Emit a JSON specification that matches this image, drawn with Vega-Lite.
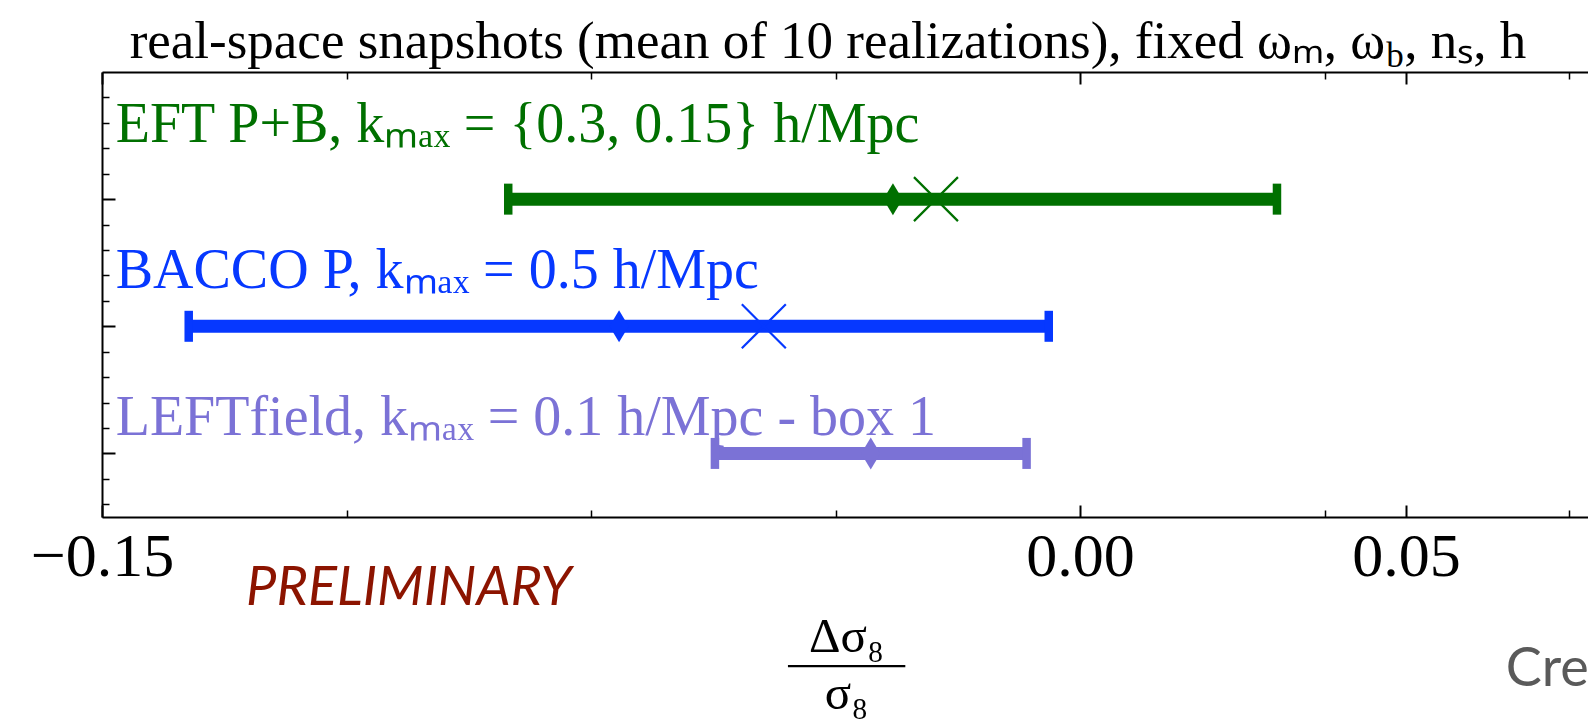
{
  "$schema": "https://vega.github.io/schema/vega-lite/v6.json",
  "autosize": "none",
  "padding": {"left": 102, "top": 72, "right": 0, "bottom": 205},
  "width": 1486,
  "height": 445,
  "background": "white",
  "config": {"view": {"stroke": null}},
  "datasets": {
    "runs": [
      {"method": "EFT P+B", "slot": 3, "lo": -0.0877, "hi": 0.0302, "mean": -0.0287, "alt": -0.0221},
      {"method": "BACCO P", "slot": 2, "lo": -0.1367, "hi": -0.0048, "mean": -0.0707, "alt": -0.0485},
      {"method": "LEFTfield", "slot": 1, "lo": -0.056, "hi": -0.0082, "mean": -0.0321, "alt": null}
    ],
    "labels": [
      {"method": "EFT P+B", "x": -0.1479, "y": 3.452, "text": "EFT P+B, kₘₐₓ = {0.3, 0.15} h/Mpc"},
      {"method": "BACCO P", "x": -0.1479, "y": 2.305, "text": "BACCO P, kₘₐₓ = 0.5 h/Mpc"},
      {"method": "LEFTfield", "x": -0.1479, "y": 1.142, "text": "LEFTfield, kₘₐₓ = 0.1 h/Mpc - box 1"}
    ]
  },
  "resolve": {"axis": {"x": "independent", "y": "independent"}},
  "layer": [
    {
      "data": {"name": "runs"},
      "mark": {"type": "rule", "strokeWidth": 13, "strokeCap": "butt"},
      "encoding": {
        "x": {"field": "lo", "type": "quantitative",
          "scale": {"domain": [-0.15, 0.0779], "nice": false, "zero": false},
          "axis": {"orient": "bottom", "values": [-0.15, 0, 0.05], "format": ".2f", "grid": false,
            "tickSize": -12, "tickWidth": 2, "tickColor": "black", "domainColor": "black", "domainWidth": 2,
            "labelFont": "Liberation Serif", "labelFontSize": 62, "labelColor": "black", "labelBaseline": "alphabetic",
            "labelPadding": 70, "labelFlush": false,
            "title": ["Δσ₈", "σ₈"], "titleFont": "Liberation Serif", "titleFontSize": 49, "titleFontWeight": "normal",
            "titleColor": "black", "titleBaseline": "alphabetic", "titleLineHeight": 57, "titleX": 744, "titleY": 134, "titleAlign": "center"}},
        "x2": {"field": "hi"},
        "y": {"field": "slot", "type": "quantitative",
          "scale": {"domain": [0.5, 4], "nice": false, "zero": false},
          "axis": {"orient": "left", "values": [1, 2, 3], "grid": false, "labels": false, "title": null,
            "tickSize": -13, "tickWidth": 2, "tickColor": "black", "domainColor": "black", "domainWidth": 2}},
        "color": {"field": "method", "type": "nominal",
          "scale": {"domain": ["EFT P+B", "BACCO P", "LEFTfield"], "range": ["#007000", "#0638ff", "#7b72d6"]},
          "legend": null}
      }
    },
    {
      "data": {"name": "runs"},
      "mark": {"type": "tick", "orient": "vertical", "size": 31, "thickness": 8.5, "opacity": 1},
      "encoding": {
        "x": {"field": "lo", "type": "quantitative",
          "axis": {"orient": "bottom", "values": [-0.1125, -0.075, -0.0375, 0.0375, 0.075], "grid": false, "labels": false,
            "domain": false, "title": null, "tickSize": -7, "tickWidth": 1.5, "tickColor": "black"}},
        "y": {"field": "slot", "type": "quantitative",
          "axis": {"orient": "left", "values": [0.6, 0.8, 1.2, 1.4, 1.6, 1.8, 2.2, 2.4, 2.6, 2.8, 3.2, 3.4, 3.6, 3.8], "grid": false,
            "labels": false, "domain": false, "title": null, "tickSize": -7, "tickWidth": 1.5, "tickColor": "black"}},
        "color": {"field": "method", "type": "nominal", "legend": null}
      }
    },
    {
      "data": {"name": "runs"},
      "mark": {"type": "tick", "orient": "vertical", "size": 31, "thickness": 8.5, "opacity": 1},
      "encoding": {
        "x": {"field": "hi", "type": "quantitative",
          "axis": {"orient": "top", "values": [-0.15, 0, 0.05], "grid": false, "labels": false, "title": null,
            "tickSize": -12, "tickWidth": 2, "tickColor": "black", "domainColor": "black", "domainWidth": 2}},
        "y": {"field": "slot", "type": "quantitative", "axis": null},
        "color": {"field": "method", "type": "nominal", "legend": null}
      }
    },
    {
      "data": {"name": "runs"},
      "mark": {"type": "point", "shape": "M0,-1L0.6,0L0,1L-0.6,0Z", "size": 1024, "filled": true, "opacity": 1, "strokeWidth": 0},
      "encoding": {
        "x": {"field": "mean", "type": "quantitative",
          "axis": {"orient": "top", "values": [-0.1125, -0.075, -0.0375, 0.0375, 0.075], "grid": false, "labels": false,
            "domain": false, "title": null, "tickSize": -7, "tickWidth": 1.5, "tickColor": "black"}},
        "y": {"field": "slot", "type": "quantitative", "axis": null},
        "color": {"field": "method", "type": "nominal", "legend": null}
      }
    },
    {
      "data": {"name": "runs"},
      "transform": [{"filter": "datum.alt != null"}],
      "mark": {"type": "point", "shape": "M-1,-1L1,1M-1,1L1,-1", "size": 1936, "filled": false, "opacity": 1, "strokeWidth": 2.2},
      "encoding": {
        "x": {"field": "alt", "type": "quantitative", "axis": null},
        "y": {"field": "slot", "type": "quantitative", "axis": null},
        "color": {"field": "method", "type": "nominal", "legend": null}
      }
    },
    {
      "mark": {"type": "rule", "color": "black", "strokeWidth": 4, "strokeDash": [17, 10]},
      "encoding": {"x": {"datum": 0, "type": "quantitative", "axis": null}}
    },
    {
      "data": {"values": [{"from": -0.0448, "to": -0.0268, "level": -0.673}]},
      "mark": {"type": "rule", "color": "black", "strokeWidth": 2.2, "clip": false},
      "encoding": {
        "x": {"field": "from", "type": "quantitative", "axis": null},
        "x2": {"field": "to"},
        "y": {"field": "level", "type": "quantitative", "axis": null}
      }
    },
    {
      "data": {"name": "labels"},
      "mark": {"type": "text", "font": "Liberation Serif", "fontSize": 56, "align": "left", "baseline": "alphabetic"},
      "encoding": {
        "x": {"field": "x", "type": "quantitative", "axis": null},
        "y": {"field": "y", "type": "quantitative", "axis": null},
        "text": {"field": "text"},
        "color": {"field": "method", "type": "nominal", "legend": null}
      }
    },
    {
      "data": {"values": [{"x": 0.0468, "y": 4.11, "text": "real-space snapshots (mean of 10 realizations), fixed ωₘ, ω"}]},
      "mark": {"type": "text", "font": "Liberation Serif", "fontSize": 53, "align": "right", "baseline": "alphabetic", "color": "black"},
      "encoding": {
        "x": {"field": "x", "type": "quantitative", "axis": null},
        "y": {"field": "y", "type": "quantitative", "axis": null},
        "text": {"field": "text"}
      }
    },
    {
      "data": {"values": [{"x": 0.0468, "y": 4.11, "text": "b"}]},
      "mark": {"type": "text", "font": "Liberation Serif", "fontSize": 35, "align": "left", "baseline": "alphabetic", "dx": 1, "dy": 9, "color": "black"},
      "encoding": {
        "x": {"field": "x", "type": "quantitative", "axis": null},
        "y": {"field": "y", "type": "quantitative", "axis": null},
        "text": {"field": "text"}
      }
    },
    {
      "data": {"values": [{"x": 0.0468, "y": 4.11, "text": ", nₛ, h"}]},
      "mark": {"type": "text", "font": "Liberation Serif", "fontSize": 53, "align": "left", "baseline": "alphabetic", "dx": 19, "color": "black"},
      "encoding": {
        "x": {"field": "x", "type": "quantitative", "axis": null},
        "y": {"field": "y", "type": "quantitative", "axis": null},
        "text": {"field": "text"}
      }
    },
    {
      "data": {"values": [{"x": -0.1279, "y": -0.194, "text": "PRELIMINARY"}]},
      "mark": {"type": "text", "font": "Lato", "fontSize": 54, "fontStyle": "italic", "align": "left", "baseline": "alphabetic", "color": "#8c1400"},
      "encoding": {
        "x": {"field": "x", "type": "quantitative", "axis": null},
        "y": {"field": "y", "type": "quantitative", "axis": null},
        "text": {"field": "text"}
      }
    },
    {
      "data": {"values": [{"x": 0.0653, "y": -0.831, "text": "Cre"}]},
      "mark": {"type": "text", "font": "Lato", "fontSize": 54, "align": "left", "baseline": "alphabetic", "color": "#5a5a5a"},
      "encoding": {
        "x": {"field": "x", "type": "quantitative", "axis": null},
        "y": {"field": "y", "type": "quantitative", "axis": null},
        "text": {"field": "text"}
      }
    }
  ]
}
